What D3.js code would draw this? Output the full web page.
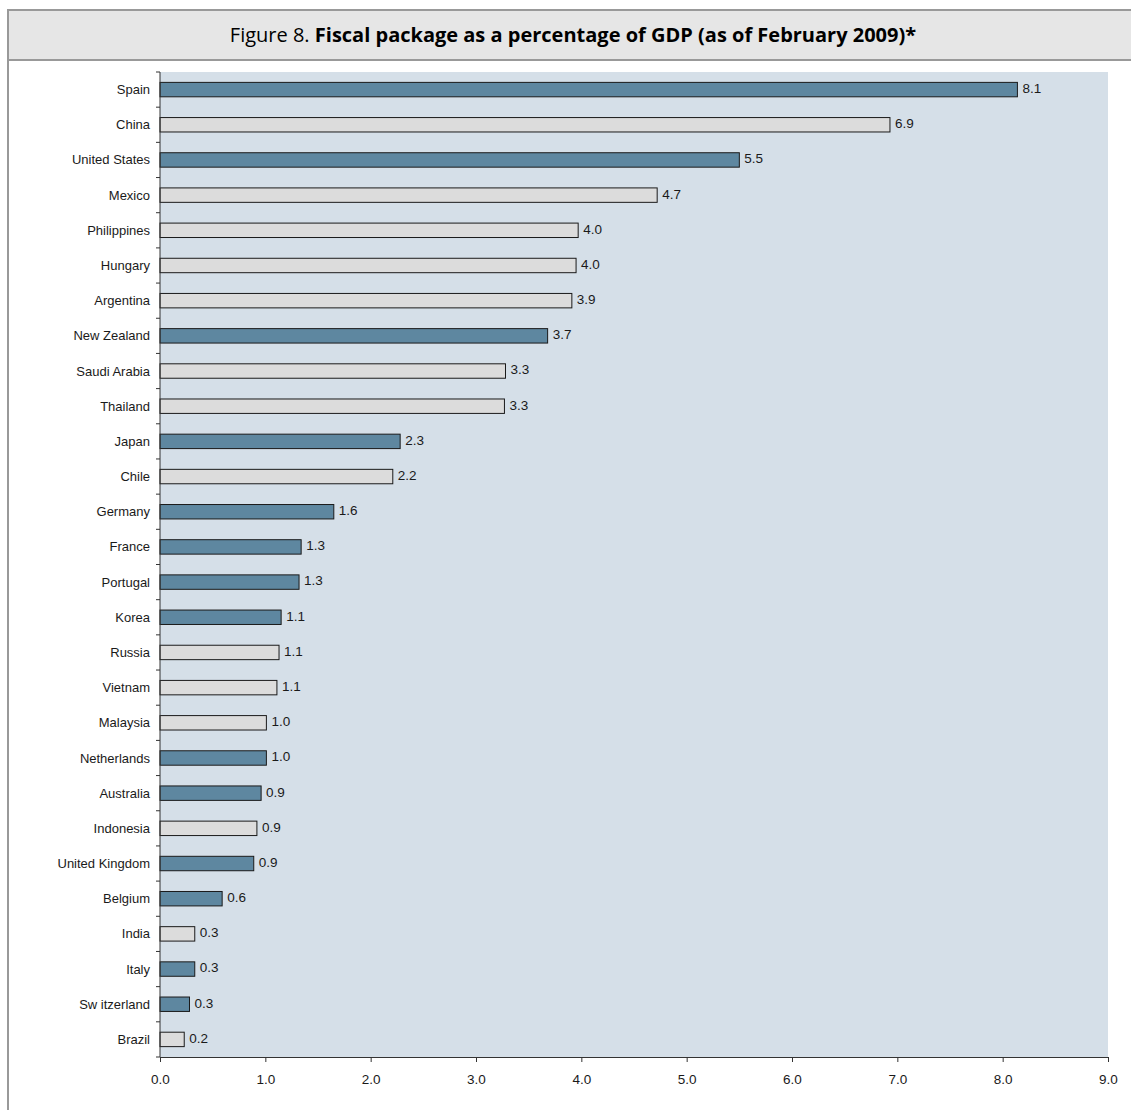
<!DOCTYPE html>
<html>
<head>
<meta charset="utf-8">
<script src="https://cdn.jsdelivr.net/npm/d3@7"></script>
<style>
  body { margin: 0; background: #fff; }
  svg text { font-family: "Liberation Sans", Arial, sans-serif; fill: #1a1a1a; }
</style>
</head>
<body>
<div class="fiscalchart"></div>
<script>
// data
const countries = ["Spain", "China", "United States", "Mexico", "Philippines", "Hungary", "Argentina",
  "New Zealand", "Saudi Arabia", "Thailand", "Japan", "Chile", "Germany", "France", "Portugal",
  "Korea", "Russia", "Vietnam", "Malaysia", "Netherlands", "Australia", "Indonesia",
  "United Kingdom", "Belgium", "India", "Italy", "Sw itzerland", "Brazil"];
const values = [8.14, 6.93, 5.50, 4.72, 3.97, 3.95, 3.91, 3.68, 3.28, 3.27, 2.28, 2.21, 1.65, 1.34,
  1.32, 1.15, 1.13, 1.11, 1.01, 1.01, 0.96, 0.92, 0.89, 0.59, 0.33, 0.33, 0.28, 0.23];
const valueLabels = ["8.1", "6.9", "5.5", "4.7", "4.0", "4.0", "3.9", "3.7", "3.3", "3.3", "2.3", "2.2",
  "1.6", "1.3", "1.3", "1.1", "1.1", "1.1", "1.0", "1.0", "0.9", "0.9", "0.9", "0.6", "0.3", "0.3",
  "0.3", "0.2"];
// D = dark blue bars, L = light grey bars
const groups = ["D", "L", "D", "L", "L", "L", "L", "D", "L", "L", "D", "L", "D", "D", "D", "D", "L",
  "L", "L", "D", "D", "L", "D", "D", "L", "D", "D", "L"];
const xTicks = [0, 1, 2, 3, 4, 5, 6, 7, 8, 9];

const data = countries.map((c, i) => ({ country: c, value: values[i], label: valueLabels[i], group: groups[i] }));

const W = 1131, H = 1110;
const Margin = { top: 72, right: 23, bottom: 53, left: 160 };
const Width = W - Margin.left - Margin.right;
const Height = H - Margin.top - Margin.bottom;

const svg = d3.select(".fiscalchart").append("svg")
  .attr("width", W)
  .attr("height", H);

// outer frame + title bar
svg.append("rect")
  .attr("x", 8).attr("y", 10)
  .attr("width", W + 20).attr("height", H + 20)
  .attr("fill", "#fff")
  .attr("stroke", "#999").attr("stroke-width", 2);
svg.append("rect")
  .attr("x", 8).attr("y", 10)
  .attr("width", W + 20).attr("height", 50)
  .attr("fill", "#e6e6e6")
  .attr("stroke", "#999").attr("stroke-width", 2);

const title = svg.append("text")
  .attr("x", 573).attr("y", 42)
  .attr("text-anchor", "middle")
  .style("font-family", "'Open Sans', 'Noto Sans', sans-serif")
  .style("font-size", "20px")
  .style("fill", "#000");
title.append("tspan").text("Figure 8. ");
title.append("tspan").style("font-weight", "bold")
  .text("Fiscal package as a percentage of GDP (as of February 2009)*");
// shrink font until title is about as wide as in the figure
let fs = 20;
while (title.node().getComputedTextLength() > 767 && fs > 10) {
  fs -= 0.25;
  title.style("font-size", fs + "px");
}

const g = svg.append("g")
  .attr("transform", "translate(" + Margin.left + "," + Margin.top + ")");

// scales
const x = d3.scaleLinear().domain([0, 9]).range([0, Width]);
const y = d3.scaleBand().domain(countries).range([0, Height])
  .paddingInner(0.59).paddingOuter(0.295);

// plot background
g.append("rect")
  .attr("width", Width).attr("height", Height)
  .attr("fill", "#d5dfe8");

// bars
g.selectAll(".bar")
  .data(data)
  .enter().append("rect")
  .attr("class", "bar")
  .attr("x", 0)
  .attr("y", d => y(d.country))
  .attr("width", d => x(d.value))
  .attr("height", y.bandwidth())
  .attr("fill", d => d.group === "D" ? "#5e87a0" : "#dcdcdc")
  .attr("stroke", "#1a1a1a")
  .attr("stroke-width", 1);

// value labels
g.selectAll(".val")
  .data(data)
  .enter().append("text")
  .attr("class", "val")
  .attr("x", d => x(d.value) + 5)
  .attr("y", d => y(d.country) + y.bandwidth() / 2)
  .attr("dy", "0.25em")
  .style("font-size", "13.5px")
  .text(d => d.label);

// X axis
const xAxis = g.append("g")
  .attr("transform", "translate(0," + Height + ")")
  .call(d3.axisBottom(x).tickValues(xTicks).tickSize(5).tickSizeOuter(0).tickFormat(d3.format(".1f")));
xAxis.select(".domain").attr("stroke", "#333");
xAxis.selectAll(".tick line").attr("stroke", "#333");
xAxis.selectAll(".tick text")
  .attr("y", 17)
  .style("font-size", "13.5px")
  .style("font-family", "'Liberation Sans', Arial, sans-serif")
  .style("fill", "#1a1a1a");

// Y axis: labels at band centres, tick marks at band boundaries
g.append("line")
  .attr("x1", 0).attr("x2", 0)
  .attr("y1", 0).attr("y2", Height)
  .attr("stroke", "#333");
const step = y.step();
g.selectAll(".ytick")
  .data(d3.range(countries.length + 1))
  .enter().append("line")
  .attr("class", "ytick")
  .attr("x1", -4).attr("x2", 0)
  .attr("y1", i => i * step)
  .attr("y2", i => i * step)
  .attr("stroke", "#333");

g.selectAll(".ylab")
  .data(data)
  .enter().append("text")
  .attr("class", "ylab")
  .attr("x", -10)
  .attr("y", d => y(d.country) + y.bandwidth() / 2)
  .attr("dy", "0.35em")
  .attr("text-anchor", "end")
  .style("font-size", "13px")
  .text(d => d.country);
</script>
</body>
</html>
